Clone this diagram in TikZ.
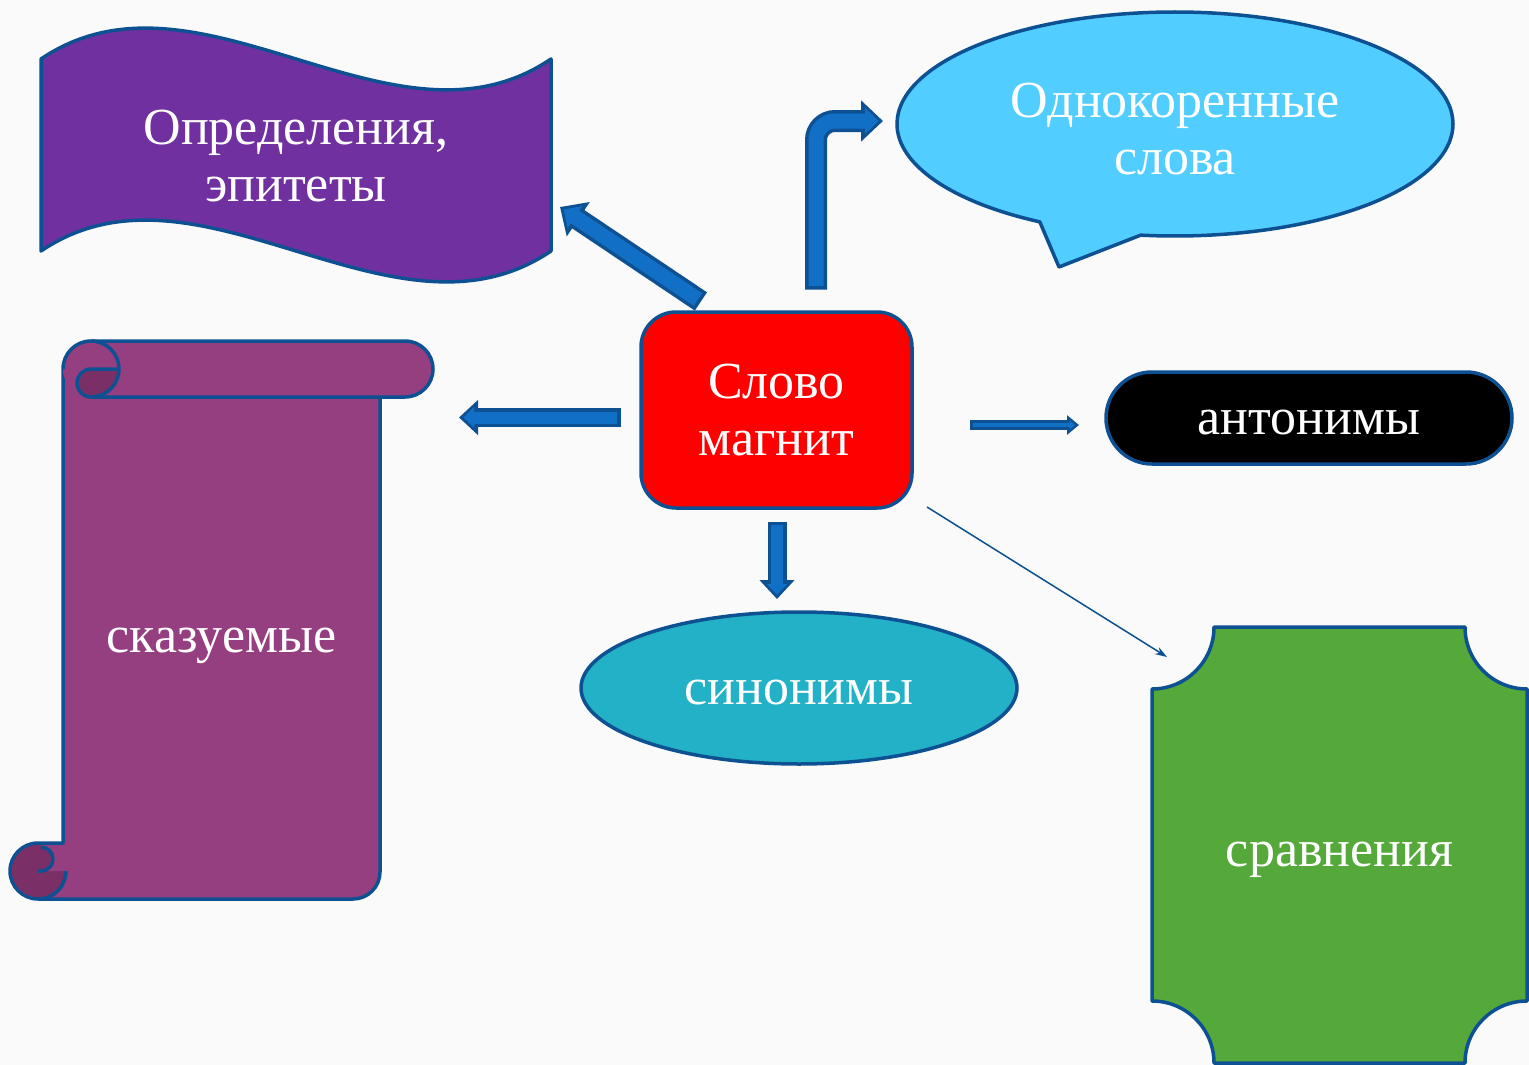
\documentclass[tikz,border=0pt]{standalone}
\usepackage{fontspec}
\setmainfont{Liberation Serif}
\usetikzlibrary{arrows.meta,calc,shapes.geometric,shapes.callouts}

\definecolor{bgc}{HTML}{FAFAFA}
\definecolor{linec}{HTML}{0D5193}
\definecolor{arrowc}{HTML}{126FC6}
\definecolor{flagc}{HTML}{7030A0}
\definecolor{scrollc}{HTML}{953F80}
\definecolor{curlc}{HTML}{7A2F66}
\definecolor{bubblec}{HTML}{52CDFF}
\definecolor{sync}{HTML}{22B1C6}
\definecolor{cmpc}{HTML}{55A83A}

\begin{document}
\begin{tikzpicture}[x=1pt, y=-1pt, line width=3.5pt,
                    font=\fontsize{52}{57}\selectfont]
  \tikzstyle{every node}=[text=white, align=center, inner sep=0pt, outer sep=0pt]
  \tikzstyle{blob}=[draw=linec, line join=round]
  \tikzstyle{oneline}=[text height=32pt, text depth=0pt]
  \tikzstyle{bigarrow}=[draw=arrowc, line width=15pt,
      -{Triangle[length=13.6pt,width=25.3pt]}, shorten >=4.4pt,
      preaction={draw=linec, line width=22pt,
      -{Triangle[length=22pt,width=40pt]}, shorten >=0pt, shorten <=-3.5pt}]
  \tikzstyle{midarrow}=[draw=arrowc, line width=12pt,
      -{Triangle[length=10.6pt,width=20pt]}, shorten >=4.4pt,
      preaction={draw=linec, line width=19pt,
      -{Triangle[length=19pt,width=34pt]}, shorten >=0pt, shorten <=-3.5pt}]
  \tikzstyle{thinarrow}=[draw=arrowc, line width=4.5pt,
      -{Triangle[length=5.5pt,width=8.7pt]}, shorten >=4pt,
      preaction={draw=linec, line width=10pt,
      -{Triangle[length=12pt,width=19pt]}, shorten >=0pt, shorten <=-2.5pt}]
  \tikzstyle{thinline}=[draw=linec, line width=1.5pt,
      -{Stealth[length=12pt,width=8pt]}]

  \useasboundingbox (0,0) rectangle (1529,1065);
  \fill[bgc] (0,0) rectangle (1529,1065);

  % flag
  \filldraw[blob, fill=flagc] (41,59) .. controls (199,-48) and (393,166) .. (551,59)
      -- (551,251) .. controls (393,358) and (199,144) .. (41,251) -- cycle;

  % scroll, body and bottom curl
  \fill[scrollc] (63,369) -- (63,843) -- (38,843) arc[start angle=270,end angle=90,radius=28]
      -- (353,899) arc[start angle=90,end angle=0,radius=27] -- (380,369) -- cycle;
  \fill[curlc] (38,871) circle[radius=28];
  \fill[scrollc] (41,871) arc[start angle=90,end angle=-90,radius=12]
      -- (41,843) -- (66,843) -- (66,871) -- cycle;
  \draw[blob] (63,369) -- (63,843) -- (38,843) arc[start angle=270,end angle=90,radius=28]
      -- (353,899) arc[start angle=90,end angle=0,radius=27] -- (380,397);
  \draw[blob] (66,871) arc[start angle=0,end angle=90,radius=28];
  \draw[blob] (38,871) -- (41,871) arc[start angle=90,end angle=-90,radius=12];
  % scroll, top roll
  \fill[scrollc] (91,341) -- (405,341) arc[start angle=-90,end angle=90,radius=28]
      -- (91,397) arc[start angle=90,end angle=270,radius=28] -- cycle;
  \fill[curlc] (91,369) -- (119,369) arc[start angle=0,end angle=90,radius=28]
      arc[start angle=90,end angle=270,radius=14] -- cycle;
  \draw[blob] (63,369) arc[start angle=180,end angle=270,radius=28]
      -- (405,341) arc[start angle=-90,end angle=90,radius=28] -- (91,397);
  \draw[blob] (91,341) arc[start angle=270,end angle=450,radius=28];
  \draw[blob] (119,369) -- (91,369) arc[start angle=270,end angle=90,radius=14];

  % plaque
  \filldraw[blob, fill=cmpc] (1214,627) -- (1465,627) arc[start angle=180,end angle=90,radius=62]
      -- (1527,1001) arc[start angle=270,end angle=180,radius=62]
      -- (1214,1063) arc[start angle=0,end angle=-90,radius=62]
      -- (1152,689) arc[start angle=90,end angle=0,radius=62] -- cycle;

  \node[minimum width=510pt, minimum height=192pt]	(defs)	at (296,156.5)	{Определения,\\эпитеты};
  \node[oneline, minimum width=317pt, minimum height=534pt]	(pred)	at (221.5,636)	{сказуемые};
  \node[oneline, minimum width=375pt, minimum height=446pt]	(cmp)	at (1339.5,850)	{сравнения};
  \node[ellipse callout, blob, fill=bubblec, minimum width=556pt, minimum height=224pt,
        text height=100pt, text depth=0pt, callout absolute pointer={(1059,267)}, callout pointer arc=22]
                                                	(onekor)	at (1175,124)	{Однокоренные\\слова};
  \node[blob, fill=red, rounded corners=35pt, minimum width=271pt, minimum height=196pt]
                                                	(word)	at (776.5,410)	{Слово\\магнит};
  \node[oneline, blob, fill=black, rounded corners=46pt, minimum width=406pt, minimum height=92pt]
                                                	(ant)	at (1309,418)	{антонимы};
  \node[oneline, ellipse, blob, fill=sync, minimum width=436pt, minimum height=152pt]
                                                	(syn)	at (799,688)	{синонимы};

  \draw[bigarrow] ($(word.north west)+(57,-12.5)$) -- ($(defs.south east)+(9,-45.5)$);
  \draw[bigarrow, rounded corners=19pt] ($(word.north)+(39.5,-26)$) |- ($(onekor.west)+(-14,-3)$);
  \draw[midarrow] ($(word.west)+(-24,7.5)$) -- ($(pred.north east)+(79,48.5)$);
  \draw[midarrow] ($(word.south)+(0.5,17)$) -- ($(syn.north)+(-22,-13)$);
  \draw[thinarrow] ($(word.east)+(60.5,15)$) -- ($(ant.west)+(-27,7)$);
  \draw[thinline] ($(word.south east)+(15,-1)$) -- ($(cmp.north west)+(15,30)$);

\end{tikzpicture}
\end{document}
